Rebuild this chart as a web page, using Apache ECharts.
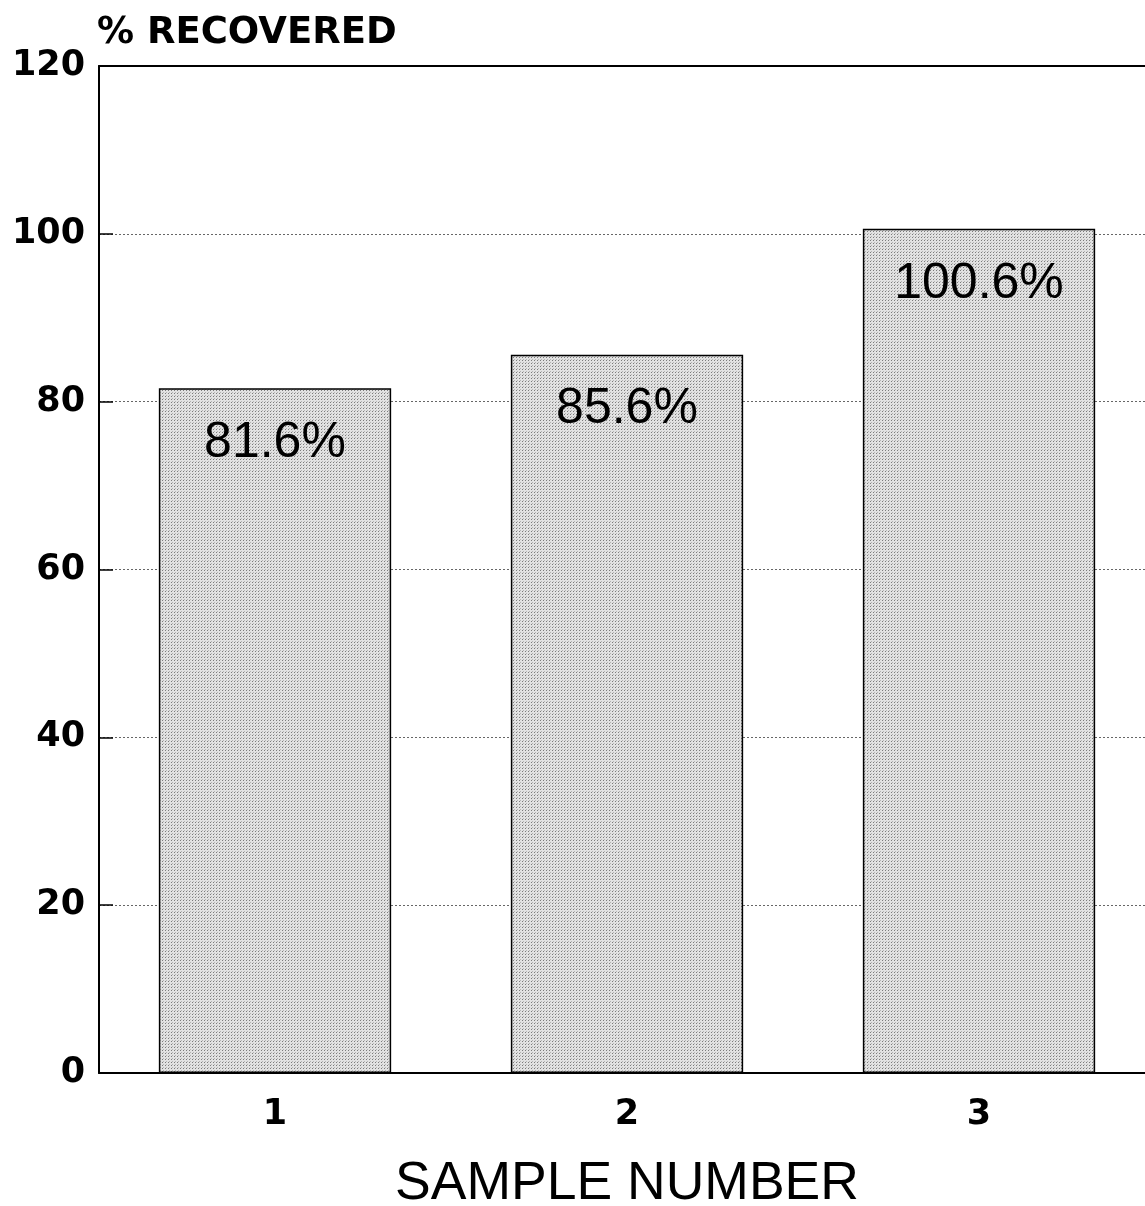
<!DOCTYPE html>
<html><head><meta charset="utf-8">
<script src="https://cdn.jsdelivr.net/npm/echarts@6/dist/echarts.min.js"></script>
<style>html,body{margin:0;padding:0;background:#fff}#c{width:1145px;height:1206px}</style>
</head><body><div id="c"></div>
<script>
const categories = ['1', '2', '3'];
const recovered = [81.6, 85.6, 100.6];
const yTicks = [0, 20, 40, 60, 80, 100, 120];

// dotted halftone fill for bars
const tile = document.createElement('canvas');
tile.width = 3; tile.height = 3;
const tc = tile.getContext('2d');
tc.fillStyle = '#e2e2e2'; tc.fillRect(0, 0, 3, 3);
tc.fillStyle = '#7c7c7c'; tc.fillRect(0, 0, 1, 1);
tc.fillStyle = '#b4b4b4'; tc.fillRect(1, 2, 1, 1);

const FONT = 'Liberation Sans, Arial, sans-serif';
const FONT2 = 'DejaVu Sans, sans-serif';

const chart = echarts.init(document.getElementById('c'));
chart.setOption({
  animation: false,
  backgroundColor: '#fff',
  textStyle: { fontFamily: FONT },
  graphic: [{
    type: 'text', left: 97, top: 15,
    style: { text: '% RECOVERED', fontSize: 37, fontWeight: 'bold', fill: '#000', fontFamily: FONT2 }
  }],
  grid: { left: 99, top: 66, width: 1056, height: 1007, containLabel: false, outerBoundsMode: 'none' },
  xAxis: [{
    type: 'category', data: categories,
    name: 'SAMPLE NUMBER', nameLocation: 'middle', nameGap: 84,
    nameTextStyle: { fontSize: 53.5, color: '#000', fontFamily: FONT },
    axisLine: { lineStyle: { color: '#000', width: 2 } },
    axisTick: { show: true, alignWithLabel: true, inside: true, length: 16, lineStyle: { color: '#000', width: 1.5 } },
    axisLabel: { fontSize: 35, fontWeight: 'bold', color: '#000', margin: 24, fontFamily: FONT2 },
    splitLine: { show: false }
  }, {
    type: 'category', data: categories, position: 'top',
    axisLine: { show: true, lineStyle: { color: '#000', width: 2 } },
    axisTick: { show: false }, axisLabel: { show: false }, splitLine: { show: false }
  }],
  yAxis: {
    type: 'value', min: 0, max: 120, interval: 20,
    axisLine: { show: true, lineStyle: { color: '#000', width: 2 } },
    axisTick: { show: true, inside: true, length: 14, lineStyle: { color: '#000', width: 1.5 } },
    axisLabel: { fontSize: 35, fontWeight: 'bold', color: '#000', margin: 14, fontFamily: FONT2,
      formatter: v => yTicks.includes(v) ? String(v) : '' },
    splitLine: { show: true, lineStyle: { color: '#666', width: 1, type: [2, 2] } }
  },
  series: [{
    type: 'bar', data: recovered, barWidth: '66%', z: 3,
    itemStyle: { color: { image: tile, repeat: 'repeat' }, borderColor: '#000', borderWidth: 1.5 },
    label: { show: true, position: 'insideTop', distance: 30, fontSize: 50, color: '#000',
      formatter: p => p.value.toFixed(1) + '%', fontFamily: FONT }
  }]
});
</script></body></html>
